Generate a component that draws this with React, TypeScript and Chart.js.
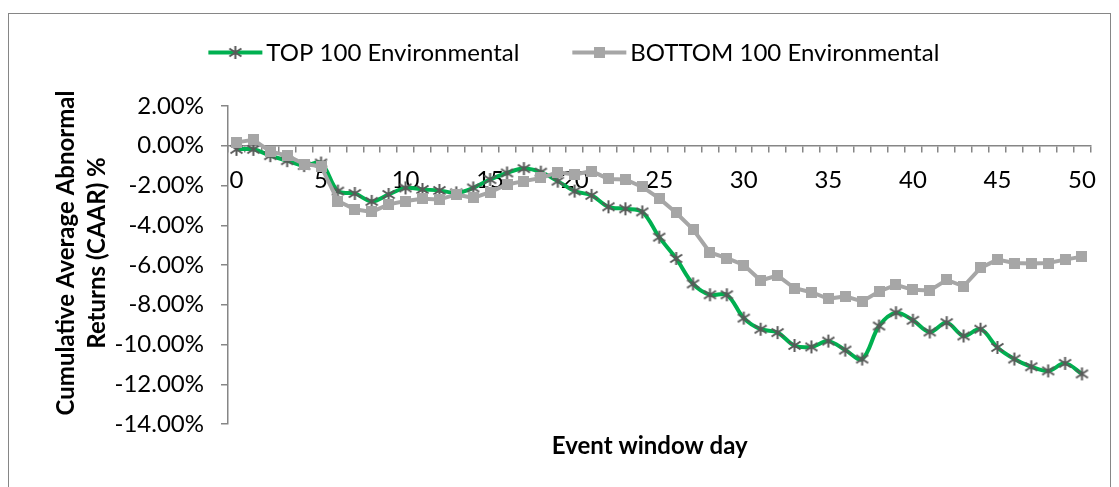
import React, { useEffect, useRef } from 'react';
import { Chart, registerables } from 'chart.js';

Chart.register(...registerables);

const eventDays = ['0','1','2','3','4','5','6','7','8','9','10','11','12','13','14','15','16','17','18','19','20','21','22','23','24','25','26','27','28','29','30','31','32','33','34','35','36','37','38','39','40','41','42','43','44','45','46','47','48','49','50'];

const top100 = [
  -0.18, -0.18, -0.5, -0.75, -1.0, -0.87, -2.28, -2.4, -2.8, -2.45,
  -2.12, -2.2, -2.25, -2.37, -2.12, -1.7, -1.37, -1.15, -1.33, -1.78,
  -2.28, -2.5, -3.07, -3.17, -3.33, -4.6, -5.67, -6.95, -7.5, -7.5,
  -8.67, -9.23, -9.4, -10.05, -10.12, -9.83, -10.28, -10.73, -9.07, -8.4,
  -8.78, -9.37, -8.9, -9.57, -9.23, -10.15, -10.73, -11.12, -11.33, -10.95,
  -11.48,
];

const bottom100 = [
  0.17, 0.3, -0.28, -0.5, -0.92, -1.03, -2.78, -3.2, -3.33, -2.95,
  -2.78, -2.67, -2.7, -2.45, -2.62, -2.33, -1.95, -1.78, -1.62, -1.33,
  -1.45, -1.28, -1.67, -1.7, -2.07, -2.65, -3.37, -4.2, -5.37, -5.65,
  -6.0, -6.78, -6.53, -7.17, -7.37, -7.7, -7.58, -7.83, -7.33, -7.0,
  -7.25, -7.28, -6.75, -7.07, -6.15, -5.73, -5.9, -5.93, -5.9, -5.73,
  -5.58,
];

const seriesNames = ['TOP 100 Environmental', 'BOTTOM 100 Environmental'];
const yTitleLines = ['Cumulative Average Abnormal', 'Returns (CAAR) %'];
const xTitle = 'Event window day';
const yMin = -14;
const yMax = 2;
const yStep = 2;
const labelEvery = 5;

const FONT = 'Lato, "Open Sans", sans-serif';
const AXIS_GRAY = '#868686';
const GREEN = '#00B050';
const LIGHT_GRAY = '#A6A6A6';
const MARK_GRAY = '#595959';

function makeAsterisk(): HTMLCanvasElement {
  const c = document.createElement('canvas');
  c.width = 15;
  c.height = 15;
  const g = c.getContext('2d')!;
  g.strokeStyle = MARK_GRAY;
  g.lineWidth = 2;
  g.lineCap = 'butt';
  g.beginPath();
  g.moveTo(7.5, 1); g.lineTo(7.5, 14);
  g.moveTo(1.5, 3.5); g.lineTo(13.5, 11.5);
  g.moveTo(1.5, 11.5); g.lineTo(13.5, 3.5);
  g.stroke();
  return c;
}

function makeSquare(): HTMLCanvasElement {
  const c = document.createElement('canvas');
  c.width = 11;
  c.height = 11;
  const g = c.getContext('2d')!;
  g.fillStyle = LIGHT_GRAY;
  g.fillRect(0, 0, 11, 11);
  return c;
}

export default function App() {
  const canvasRef = useRef<HTMLCanvasElement | null>(null);

  useEffect(() => {
    if (!canvasRef.current) return;
    const asterisk = makeAsterisk();
    const square = makeSquare();

    const decorPlugin = {
      id: 'decor',
      afterDraw(chart: any) {
        const ctx = chart.ctx as CanvasRenderingContext2D;
        const area = chart.chartArea;
        ctx.save();
        // Legend
        ctx.font = `24px ${FONT}`;
        ctx.textBaseline = 'middle';
        ctx.textAlign = 'left';
        const lineW = 54;
        const gap = 4;
        const itemGap = 53;
        const items = [
          { text: seriesNames[0], color: GREEN, marker: asterisk },
          { text: seriesNames[1], color: LIGHT_GRAY, marker: square },
        ];
        const widths = items.map((it) => lineW + gap + ctx.measureText(it.text).width);
        const total = widths[0] + widths[1] + itemGap;
        const legendCenter = area.left + (area.right - area.left) * 0.401;
        let x = legendCenter - total / 2;
        const ly = 38.5;
        items.forEach((it, i) => {
          ctx.strokeStyle = it.color;
          ctx.lineWidth = 4;
          ctx.beginPath();
          ctx.moveTo(x, ly);
          ctx.lineTo(x + lineW, ly);
          ctx.stroke();
          ctx.drawImage(it.marker, x + lineW / 2 - it.marker.width / 2, ly - it.marker.height / 2);
          ctx.fillStyle = '#000';
          ctx.fillText(it.text, x + lineW + gap, ly + 1);
          x += widths[i] + itemGap;
        });
        // Axis titles
        ctx.font = `bold 24px ${FONT}`;
        ctx.textAlign = 'center';
        ctx.fillStyle = '#000';
        ctx.fillText(xTitle, area.left + (area.right - area.left) * 0.489, area.bottom + 22);
        const yc = (area.top + area.bottom) / 2 - 12;
        ctx.translate(57, yc);
        ctx.rotate(-Math.PI / 2);
        ctx.fillText(yTitleLines[0], 0, 0);
        ctx.fillText(yTitleLines[1], 0, 31);
        ctx.restore();
      },
    };

    const chart = new Chart(canvasRef.current, {
      type: 'line',
      data: {
        labels: eventDays,
        datasets: [
          {
            label: seriesNames[0],
            data: top100,
            borderColor: GREEN,
            backgroundColor: GREEN,
            borderWidth: 4,
            tension: 0.35,
            pointStyle: asterisk,
            pointRadius: 6,
            order: 1,
          },
          {
            label: seriesNames[1],
            data: bottom100,
            borderColor: LIGHT_GRAY,
            backgroundColor: LIGHT_GRAY,
            borderWidth: 4,
            tension: 0,
            pointStyle: square,
            pointRadius: 6,
            order: 0,
          },
        ],
      },
      options: {
        animation: false,
        responsive: true,
        maintainAspectRatio: false,
        events: [],
        layout: { padding: { left: 0, right: 10, top: 92, bottom: 70 } },
        plugins: {
          legend: { display: false },
          tooltip: { enabled: false },
          title: { display: false },
        },
        scales: {
          x: {
            type: 'category',
            position: { y: 0 },
            offset: true,
            grid: {
              display: true,
              offset: true,
              drawOnChartArea: false,
              drawTicks: true,
              tickLength: 6,
              color: AXIS_GRAY,
              lineWidth: 1.5,
            },
            border: { display: true, color: AXIS_GRAY, width: 1.5 },
            ticks: {
              autoSkip: false,
              maxRotation: 0,
              minRotation: 0,
              padding: 14,
              color: '#000',
              font: { family: FONT, size: 24 },
              callback: (_v: any, i: number) => (i % labelEvery === 0 ? eventDays[i] : ''),
            },
          },
          y: {
            min: yMin,
            max: yMax,
            afterFit: (scale: any) => { scale.width = 219; },
            grid: {
              display: true,
              drawOnChartArea: false,
              drawTicks: true,
              tickLength: 7,
              color: AXIS_GRAY,
              lineWidth: 1.5,
            },
            border: { display: true, color: AXIS_GRAY, width: 1.5 },
            ticks: {
              stepSize: yStep,
              padding: 17,
              color: '#000',
              font: { family: FONT, size: 24 },
              callback: (v: any) => Number(v).toFixed(2) + '%',
            },
          },
        },
      },
      plugins: [decorPlugin],
    });
    return () => chart.destroy();
  }, []);

  return (
    <div
      style={{
        position: 'relative',
        top: 5,
        width: 1101,
        height: 480,
        border: `1px solid ${AXIS_GRAY}`,
        background: '#fff',
      }}
    >
      <canvas ref={canvasRef} />
    </div>
  );
}
